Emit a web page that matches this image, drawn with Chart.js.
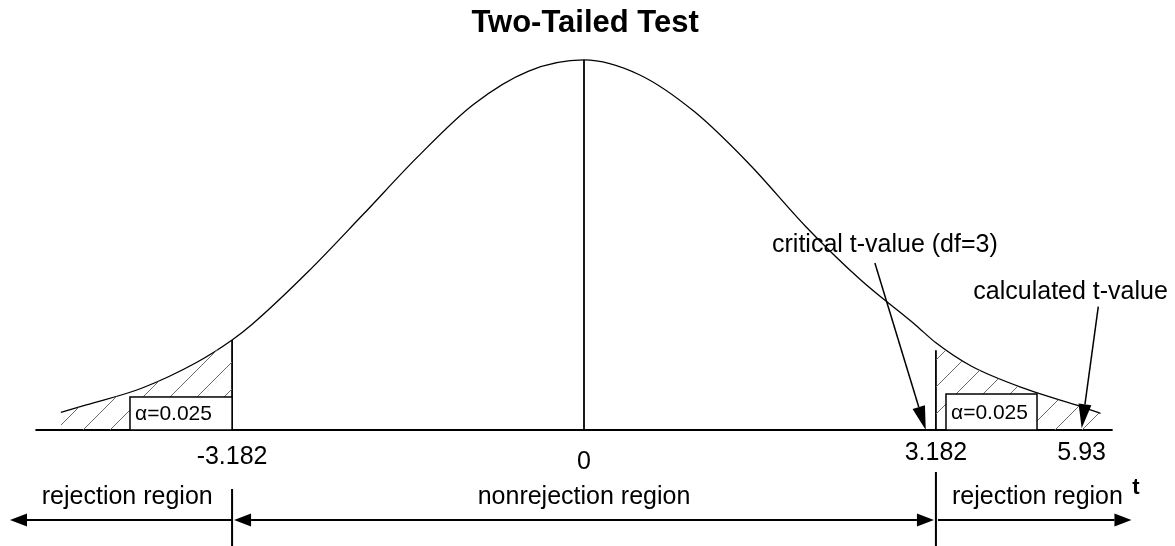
<!DOCTYPE html>
<html>
<head>
<meta charset="utf-8">
<script src="https://cdn.jsdelivr.net/npm/chart.js@4.4.1/dist/chart.umd.min.js"></script>
<style>
  html, body { margin: 0; padding: 0; background: #fff; }
  #wrap { width: 1175px; height: 546px; }
</style>
</head>
<body>
<div id="wrap"><canvas id="tailChart"></canvas></div>
<script>
// curve (t position, height)
const tValues = [-4.73, -4.5, -4.0, -3.5, -3.182, -3.0, -2.5, -2.0, -1.5, -1.0, -0.5, 0,
                 0.5, 1.0, 1.5, 2.0, 2.5, 3.0, 3.182, 3.5, 4.0, 4.5, 4.67];
const density = [0.019, 0.027, 0.045, 0.073, 0.097, 0.114, 0.170, 0.232, 0.295, 0.351, 0.387, 0.399,
                 0.383, 0.343, 0.286, 0.220, 0.162, 0.113, 0.094, 0.069, 0.044, 0.025, 0.018];

const critT = 3.182;
const calcT = 5.93;
const calcPos = 4.5;   // the figure is not to scale out in the tail: 5.93 is drawn here
const alphaLabel = 'α=0.025';

const tickValues = [-critT, 0, critT, calcPos];
const tickLabels = ['-3.182', '0', '3.182', '5.93'];
const regionLabels = ['rejection region', 'nonrejection region', 'rejection region'];

const FONT = "'Liberation Sans', Arial, sans-serif";

const curve = tValues.map((t, i) => ({ x: t, y: density[i] }));
const leftTail = curve.filter(p => p.x <= -critT);
const rightTail = curve.filter(p => p.x >= critT);
const peak = density[tValues.indexOf(0)];
const critH = density[tValues.indexOf(-critT)];

// diagonal hatching for the rejection tails
function makeHatch() {
    const s = 27;
    const c = document.createElement('canvas');
    c.width = s; c.height = s;
    const g = c.getContext('2d');
    g.strokeStyle = '#6a6a6a';
    g.lineWidth = 1;
    g.beginPath();
    g.moveTo(0, s); g.lineTo(s, 0);
    g.moveTo(-2, 2); g.lineTo(2, -2);
    g.moveTo(s - 2, s + 2); g.lineTo(s + 2, s - 2);
    g.stroke();
    return g.createPattern(c, 'repeat');
}
const hatch = makeHatch();

function arrow(ctx, x1, y1, x2, y2, len, wid, lw) {
    const a = Math.atan2(y2 - y1, x2 - x1);
    const bx = x2 - len * Math.cos(a), by = y2 - len * Math.sin(a);
    ctx.lineWidth = lw;
    ctx.beginPath();
    ctx.moveTo(x1, y1);
    ctx.lineTo(bx, by);
    ctx.stroke();
    ctx.beginPath();
    ctx.moveTo(x2, y2);
    ctx.lineTo(bx + wid / 2 * Math.sin(a), by - wid / 2 * Math.cos(a));
    ctx.lineTo(bx - wid / 2 * Math.sin(a), by + wid / 2 * Math.cos(a));
    ctx.closePath();
    ctx.fill();
}

const diagramPlugin = {
    id: 'diagram',
    afterDatasetsDraw(chart) {
        const ctx = chart.ctx;
        const xs = chart.scales.x, ys = chart.scales.y;
        const px = v => xs.getPixelForValue(v);
        const py = v => ys.getPixelForValue(v);
        ctx.save();
        ctx.strokeStyle = '#000';
        ctx.fillStyle = '#000';

        // alpha boxes
        ctx.font = '21px ' + FONT;
        ctx.textBaseline = 'middle';
        ctx.textAlign = 'left';
        [[-4.105, -critT, 0.0356], [3.273, 4.096, 0.0388]].forEach(([a, b, top]) => {
            const x0 = px(a), x1 = px(b), y0 = py(top), y1 = py(0);
            ctx.fillStyle = '#fff';
            ctx.fillRect(x0, y0, x1 - x0, y1 - y0);
            ctx.lineWidth = 1.5;
            ctx.strokeRect(x0, y0, x1 - x0, y1 - y0);
            ctx.fillStyle = '#000';
            ctx.fillText(alphaLabel, x0 + 5, (y0 + y1) / 2 + 1);
        });

        // tick labels under the axis
        ctx.font = '25px ' + FONT;
        ctx.textAlign = 'center';
        const tickDy = [27, 32, 23, 23];
        tickValues.forEach((v, i) => ctx.fillText(tickLabels[i], px(v), py(0) + tickDy[i]));

        // annotation labels and arrows
        ctx.textAlign = 'left';
        ctx.fillText('critical t-value (df=3)', px(1.70), py(0.199));
        ctx.fillText('calculated t-value', px(3.52), py(0.149));
        arrow(ctx, px(2.63), py(0.180), px(3.09), py(0), 24, 13, 1.5);
        arrow(ctx, px(4.65), py(0.133), px(calcPos), py(0.002), 24, 13, 1.5);

        // region separators and arrows below the axis
        const yArr = py(-0.097);
        ctx.lineWidth = 2;
        ctx.beginPath();
        ctx.moveTo(px(-critT), py(-0.0636)); ctx.lineTo(px(-critT), py(-0.13));
        ctx.moveTo(px(critT), py(-0.0453)); ctx.lineTo(px(critT), py(-0.13));
        ctx.stroke();
        arrow(ctx, px(-critT), yArr, px(-5.19), yArr, 17, 13, 2);
        arrow(ctx, px(0), yArr, px(-critT) + 2, yArr, 17, 13, 2);
        arrow(ctx, px(0), yArr, px(critT) - 2, yArr, 17, 13, 2);
        arrow(ctx, px(critT) + 2, yArr, px(4.95), yArr, 17, 13, 2);

        ctx.textAlign = 'center';
        const yReg = py(-0.0722);
        ctx.fillText(regionLabels[0], px(-4.13), yReg);
        ctx.fillText(regionLabels[1], px(0), yReg);
        ctx.fillText(regionLabels[2], px(4.10), yReg);

        ctx.font = 'bold 22px ' + FONT;
        ctx.fillText('t', px(4.99), py(-0.0625));

        // title
        ctx.font = 'bold 31px ' + FONT;
        ctx.fillText('Two-Tailed Test', px(0.01), py(0.4388));
        ctx.restore();
    }
};

const lineStyle = { showLine: true, pointRadius: 0, borderColor: '#000', fill: false };

new Chart(document.getElementById('tailChart'), {
    type: 'scatter',
    data: {
        datasets: [
            { data: leftTail, showLine: true, pointRadius: 0, borderWidth: 0,
              borderColor: 'rgba(0,0,0,0)', backgroundColor: hatch, fill: 'origin',
              cubicInterpolationMode: 'monotone' },
            { data: rightTail, showLine: true, pointRadius: 0, borderWidth: 0,
              borderColor: 'rgba(0,0,0,0)', backgroundColor: hatch, fill: 'origin',
              cubicInterpolationMode: 'monotone' },
            { ...lineStyle, data: curve, borderWidth: 1.3, cubicInterpolationMode: 'monotone' },
            { ...lineStyle, data: [{ x: -4.96, y: 0 }, { x: 4.78, y: 0 }], borderWidth: 2 },
            { ...lineStyle, data: [{ x: 0, y: 0 }, { x: 0, y: peak }], borderWidth: 1.8 },
            { ...lineStyle, data: [{ x: -critT, y: 0 }, { x: -critT, y: critH }], borderWidth: 1.8 },
            { ...lineStyle, data: [{ x: critT, y: 0 }, { x: critT, y: 0.086 }], borderWidth: 1.8 },
        ]
    },
    options: {
        responsive: true,
        maintainAspectRatio: false,
        animation: false,
        layout: { padding: 0 },
        plugins: {
            legend: { display: false },
            title: { display: false },
            tooltip: { enabled: false }
        },
        scales: {
            x: { type: 'linear', display: false, min: -5.2803, max: 5.3436 },
            y: { type: 'linear', display: false, min: -0.12507, max: 0.46361 }
        }
    },
    plugins: [ diagramPlugin ],
});
</script>
</body>
</html>
